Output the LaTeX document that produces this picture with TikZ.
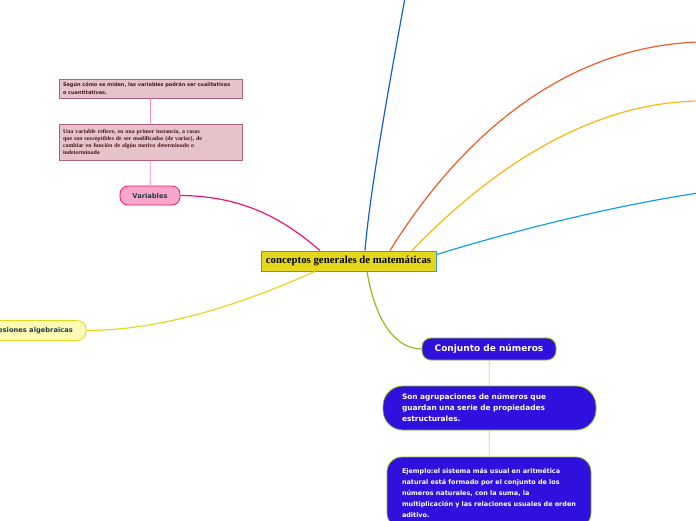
\documentclass[tikz,border=0pt]{standalone}
\usepackage{fontspec}
\setmainfont{Liberation Serif}
\setsansfont{DejaVu Sans}
\usetikzlibrary{positioning}
\definecolor{mmyellow}{HTML}{E5D81C}
\definecolor{mmframe}{HTML}{3A9AD9}
\definecolor{mmblue}{HTML}{1560D0}
\definecolor{mmorange}{HTML}{F05A28}
\definecolor{mmgold}{HTML}{FBB512}
\definecolor{mmsky}{HTML}{14A0E6}
\definecolor{mmpink}{HTML}{F0147A}
\definecolor{mmgreen}{HTML}{8CBE1E}
\definecolor{mmrose}{HTML}{E6C3CA}
\definecolor{mmroseline}{HTML}{A8627A}
\definecolor{mmdark}{HTML}{203C46}
\definecolor{mmviolet}{HTML}{3010DC}
\definecolor{mmcream}{HTML}{FFFAB4}

\tikzset{
  mainbox/.style={draw=mmframe, line width=1pt, fill=mmyellow, minimum width=175pt,
    minimum height=20pt, inner sep=0pt, font=\bfseries\fontsize{10.8}{12}\selectfont},
  topic/.style={rounded corners=8pt, line width=0.8pt, inner sep=0pt,
    font=\sffamily\bfseries\fontsize{6.7}{8}\selectfont, text=mmdark},
  notebox/.style={draw=mmroseline, fill=mmrose, line width=0.7pt, minimum width=183pt,
    text width=175pt, align=left, inner sep=4pt, text=mmdark!60!red!60!black},
  bluebox/.style={draw=mmgreen, fill=mmviolet, line width=0.8pt, text=white,
    inner sep=0pt, font=\sffamily\bfseries},
  branch/.style={line width=1.2pt}
}

\begin{document}
\begin{tikzpicture}[x=1pt,y=-1pt]
\useasboundingbox (0,0) rectangle (696,520);

% central topic
\node[mainbox] (centro) at (348.5,261) {conceptos generales de matemáticas};

% left side
\node[topic, draw=mmpink, fill=mmpink!38, minimum width=60pt, minimum height=19pt]
  (variables) at (150,195.5) {Variables};
\node[notebox, minimum height=19pt, font=\sffamily\bfseries\fontsize{5}{7.2}\selectfont]
  (medida) at (150.5,88.5) {Según cómo se miden, las variables podrán ser cualitativas\\o cuantitativas.};
\node[notebox, minimum height=36pt, font=\bfseries\fontsize{5.85}{7.3}\selectfont]
  (definicion) at (150.5,142) {Una variable refiere, en una primer instancia, a cosas\\que son susceptibles de ser modificadas (de variar), de\\cambiar en función de algún motivo determinado o\\indeterminado};
\node[topic, rounded corners=9pt, draw=mmyellow, fill=mmcream, minimum width=118pt, minimum height=20pt]
  (expresiones) at (27,330.5) {Expresiones algebraicas};

% lower right
\node[bluebox, rounded corners=9pt, minimum width=134pt, minimum height=22pt,
  font=\sffamily\bfseries\fontsize{9}{10}\selectfont] (conjunto) at (489,349) {Conjunto de números};
\node[bluebox, rounded corners=20pt, minimum width=213pt, minimum height=44pt,
  text width=175pt, align=left, font=\sffamily\bfseries\fontsize{7.4}{11}\selectfont]
  (agrupa) at (489.5,408) {Son agrupaciones de números que\\guardan una serie de propiedades\\estructurales.};
\node[bluebox, rounded corners=15pt, minimum width=204pt, minimum height=71pt,
  text width=174pt, align=left, font=\sffamily\bfseries\fontsize{6.45}{11}\selectfont]
  (ejemplo) at (489,492.5) {Ejemplo:el sistema más usual en aritmética\\natural está formado por el conjunto de los\\números naturales, con la suma, la\\multiplicación y las relaciones usuales de orden\\aditivo.};

% loose ends off the page
\coordinate (finazul) at (405,-2);
\coordinate (finnaranja) at (698,42);
\coordinate (finoro) at (698,101);
\coordinate (fincielo) at (698,193);

% branches
\draw[branch, mmblue] ([xshift=16.5pt]centro.north) .. controls (370,190) and (390,80) .. (finazul);
\draw[branch, mmorange] ([xshift=41.5pt]centro.north) .. controls (440,170) and (540,48) .. (finnaranja);
\draw[branch, mmgold] ([xshift=63.5pt]centro.north) .. controls (480,180) and (580,103) .. (finoro);
\draw[branch, mmsky] ([yshift=-4pt]centro.north east) .. controls (500,235) and (600,208) .. (fincielo);
\draw[branch, mmpink] ([xshift=-28.5pt]centro.north) .. controls (290,225) and (250,196) .. (variables.east);
\draw[branch, mmyellow] ([xshift=-33.5pt]centro.south) .. controls (250,300) and (170,330) .. (expresiones.east);
\draw[branch, mmgreen] ([xshift=18.5pt]centro.south) .. controls (375,320) and (395,349) .. (conjunto.west);

% sub-topic links
\draw[mmpink!50, line width=0.8pt] (variables) -- (definicion) -- (medida);
\draw[mmgreen!50, line width=0.8pt] (conjunto) -- (agrupa) -- (ejemplo);
\end{tikzpicture}
\end{document}
